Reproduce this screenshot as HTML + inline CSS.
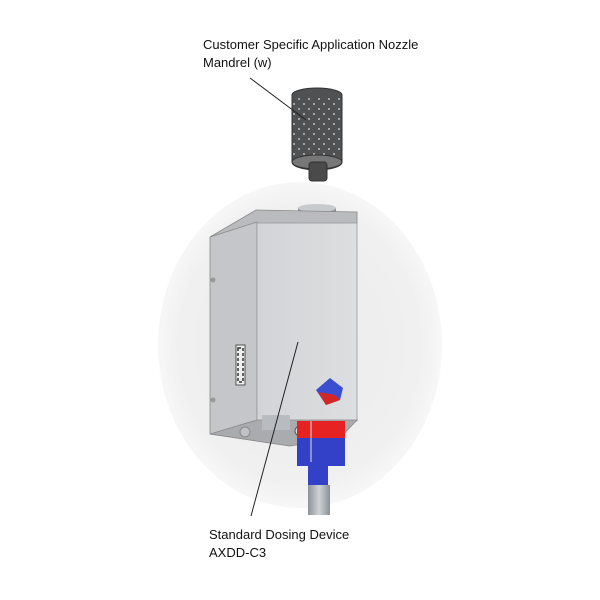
<!DOCTYPE html>
<html><head><style>
html,body{margin:0;padding:0;background:#fff;width:600px;height:600px;overflow:hidden}
text{font-family:"Liberation Sans",Arial,sans-serif;font-size:13px;fill:#111}
</style></head><body>
<svg width="600" height="600" viewBox="0 0 600 600" xmlns="http://www.w3.org/2000/svg">
<defs>
<radialGradient id="bg" cx="0.5" cy="0.5" r="0.5">
<stop offset="0" stop-color="#ebebeb"/><stop offset="0.85" stop-color="#f0f0f0"/><stop offset="1" stop-color="#f7f7f7"/>
</radialGradient>
<pattern id="dots" x="0" y="0" width="10" height="10" patternUnits="userSpaceOnUse">
<circle cx="4" cy="4" r="0.9" fill="#ddd"/><circle cx="9" cy="9" r="0.9" fill="#ddd"/>
</pattern>
<linearGradient id="front" x1="0" x2="1"><stop offset="0" stop-color="#d2d4d7"/><stop offset="1" stop-color="#dcdee0"/></linearGradient>
<linearGradient id="cyl" x1="0" x2="1"><stop offset="0" stop-color="#8d9298"/><stop offset="0.5" stop-color="#cfd3d7"/><stop offset="1" stop-color="#8b9096"/></linearGradient>
</defs>
<ellipse cx="300" cy="345" rx="142" ry="163" fill="url(#bg)"/>
<path d="M292 95 A25 7 0 0 1 342 95 L342 162 A25 8 0 0 1 292 162 Z" fill="#505152" stroke="#333" stroke-width="1"/>
<rect x="292" y="95" width="50" height="67" fill="url(#dots)"/>
<ellipse cx="317" cy="162" rx="25" ry="7" fill="#777" stroke="#333"/>
<rect x="309" y="162" width="18" height="19" rx="3" fill="#4a4a4a" stroke="#333"/>
<rect x="298" y="208" width="38" height="12" fill="url(#cyl)"/>
<ellipse cx="317" cy="208" rx="19" ry="4" fill="#c7cbcf"/>
<polygon points="210,237 256,210 357,212 357,224 257,224" fill="#b9bbbe" stroke="#888" stroke-width="0.8"/>
<polygon points="210,237 257,222 257,440 290,446 210,434" fill="#c4c6c9" stroke="#888" stroke-width="0.8"/>
<rect x="257" y="223" width="100" height="198" fill="url(#front)" stroke="#999" stroke-width="0.8"/>
<polygon points="210,434 257,420 357,420 340,438 290,446" fill="#a9abae" stroke="#888" stroke-width="0.8"/>
<circle cx="213" cy="280" r="2.5" fill="#999"/><circle cx="213" cy="400" r="2.5" fill="#999"/>
<rect x="236" y="345" width="9" height="40" fill="#eee" stroke="#333" stroke-width="0.8"/>
<rect x="238" y="348" width="5" height="34" fill="none" stroke="#333" stroke-width="1.5" stroke-dasharray="3 2"/>
<path d="M316 390 L330 378 L343 388 L340 400 L326 405 Z" fill="#3a4fcf"/>
<path d="M318 392 L326 405 L340 400 L335 395 Z" fill="#d52626"/>
<rect x="262" y="415" width="28" height="15" fill="#b8bcc0"/>
<circle cx="245" cy="432" r="5" fill="#bfc3c7" stroke="#888"/>
<circle cx="300" cy="431" r="5" fill="#ddd" stroke="#555"/>
<rect x="297" y="421" width="48" height="19" fill="#e62222"/>
<rect x="297" y="438" width="48" height="28" fill="#3341c9"/>
<line x1="311" y1="421" x2="311" y2="462" stroke="#ddd" stroke-width="1"/>
<rect x="308" y="465" width="20" height="22" fill="#3341c9"/>
<rect x="308" y="485" width="22" height="30" fill="url(#cyl)"/>
<line x1="250" y1="78" x2="306" y2="120" stroke="#222" stroke-width="1"/>
<line x1="298" y1="342" x2="251" y2="516" stroke="#222" stroke-width="1"/>
<text x="203" y="49">Customer Specific Application Nozzle</text>
<text x="203" y="67">Mandrel (w)</text>
<text x="209" y="539">Standard Dosing Device</text>
<text x="209" y="557">AXDD-C3</text>
</svg>
</body></html>
